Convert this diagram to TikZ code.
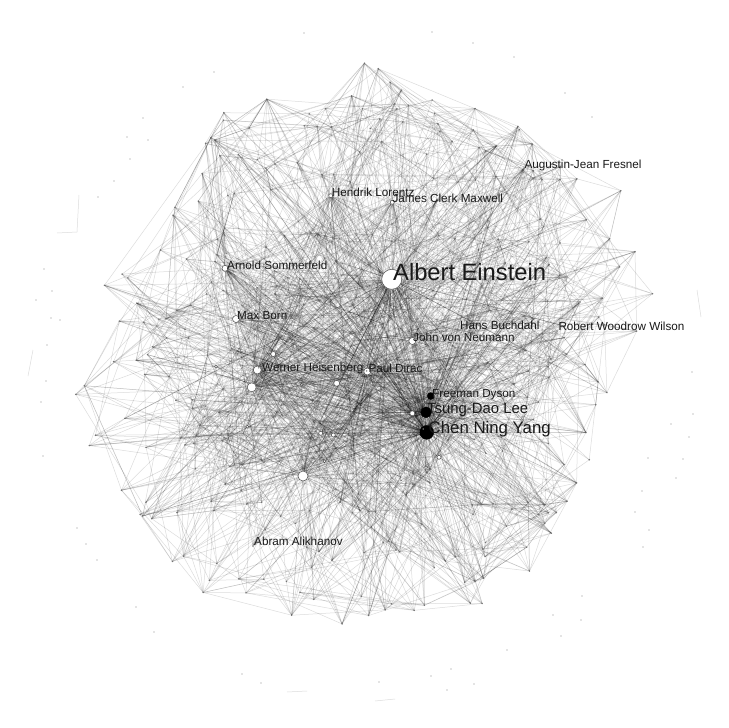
\documentclass[tikz,border=0pt]{standalone}
\usepackage{fontspec}
\setmainfont{Liberation Sans}
\pgfdeclarelayer{edges}
\pgfsetlayers{edges,main}
\begin{document}
\begin{tikzpicture}[x=1pt,y=-1pt,
  edge/.style={draw=black,draw opacity=0.14,line width=0.5pt},
  wnode/.style={circle,draw=black!70,fill=white,line width=0.5pt,inner sep=0pt},
  bnode/.style={circle,draw=black,fill=black,inner sep=0pt},
  dnode/.style={circle,fill=black!60,inner sep=0pt,minimum size=1.8pt},
  lbl/.style={anchor=base west,inner sep=0pt,text=black!90},
  sml/.style={lbl,font=\fontsize{11.7}{14}\selectfont},
  isodot/.style={fill=black!45}
]
\useasboundingbox (0,0) rectangle (728,728);
% ---- hub nodes
\node[wnode,minimum size=20pt] (ein) at (391.7,279.3) {};
\node[bnode,minimum size=14pt] (yang) at (426.7,432.3) {};
\node[bnode,minimum size=11pt] (lee) at (426,412.3) {};
\node[bnode,minimum size=7pt] (dyson) at (430.7,396) {};
\node[wnode,minimum size=8pt] (heis) at (257.3,370) {};
\node[wnode,minimum size=9pt] (w1) at (251.7,387.3) {};
\node[wnode,minimum size=10pt] (w2) at (303,476) {};
\node[wnode,minimum size=7pt] (born) at (236,319) {};
\node[wnode,minimum size=6pt] (somm) at (225,268.3) {};
\node[wnode,minimum size=7pt] (dirac) at (367.3,371.5) {};
\node[wnode,minimum size=7pt] (neum) at (412.3,341) {};
\node[wnode,minimum size=6pt] (w3) at (336.7,383.3) {};
\node[wnode,minimum size=5pt] (w4) at (273.3,354) {};
\node[wnode,minimum size=5pt] (w5) at (412.3,413.3) {};
\node[wnode,minimum size=4pt] (w6) at (439,457.3) {};
\node[wnode,minimum size=4pt] (w7) at (320.7,433.3) {};
\node[wnode,minimum size=4pt] (w8) at (333.3,435) {};
\node[wnode,minimum size=3pt] (w9) at (324.5,461.3) {};
\node[wnode,minimum size=3pt] (w10) at (216,366.7) {};
\node[wnode,minimum size=3pt] (w11) at (247.3,426.7) {};
\node[wnode,minimum size=3pt,fill=black!20] (w12) at (301.7,384.7) {};
\node[wnode,minimum size=4pt] (lor) at (330.7,195.7) {};
\node[wnode,minimum size=4pt] (maxw) at (392.3,202.3) {};
\node[dnode] (fres) at (524,168.3) {};
\node[dnode] (buch) at (458,330) {};
\node[dnode] (wils) at (557,331) {};
\node[dnode] (alik) at (253,546) {};
\node[dnode] (g1) at (567,277) {};
\node[dnode] (g2) at (580,302) {};
% ---- random network nodes
\def\NN{430}
\def\Rtab{{250,235,250,260,265,270,270,270,285,290,285,300,295,290,280,270,295,305,303,295,300,300,308,310,250,235}}
\pgfmathsetseed{2718}
\foreach \i in {1,...,\NN}{
  \pgfmathsetmacro\th{(\i+rnd)/\NN*360}
  \pgfmathtruncatemacro\kk{floor(\th/15)}
  \pgfmathsetmacro\fr{\th/15-\kk}
  \pgfmathsetmacro\RR{\Rtab[\kk]*(1-\fr)+\Rtab[\kk+1]*\fr}
  \pgfmathsetmacro\rr{\RR*pow(rnd,0.66)}
  \pgfmathsetmacro\px{370+\rr*cos(\th)}
  \pgfmathsetmacro\py{365+\rr*sin(\th)}
  \coordinate (n\i) at (\px,\py);
  \expandafter\xdef\csname nx\i\endcsname{\px}
  \expandafter\xdef\csname ny\i\endcsname{\py}
}
\foreach \i in {1,...,\NN}{\fill[black!55] (n\i) circle (0.8);}
% ---- isolated dots
\foreach \p in {(304,33),(214,72),(183,87),(143,118),(127,137),(148,140),(130,159),(114,181),(98,197),(44,269),(52,291),(36,300),(60,320),(51,318),(47,345),(432,32),(473,43),(514,57),(565,93),(592,117),(46,381),(41,402),(43,456),(77,528),(86,544),(97,560),(136,607),(154,632),(242,674),(261,683),(692,372),(693,414),(671,424),(689,437),(648,458),(683,459),(676,478),(642,491),(635,512),(649,530),(643,547),(582,596),(581,620),(553,615),(561,636),(507,650),(451,669),(431,676),(474,684),(447,690),(379,682)}{\fill[isodot] \p circle (0.6);}
% ---- edges
\begin{pgfonlayer}{edges}
\fill[white] (0,0) rectangle (728,728);
% local edges
\foreach \e in {1,...,1750}{
  \pgfmathtruncatemacro\ea{random(1,\NN)}
  \pgfmathtruncatemacro\eb{mod(\ea+random(0,80)-40+\NN-1,\NN)+1}
  \pgfmathtruncatemacro\ec{mod(\ea+random(0,80)-40+\NN-1,\NN)+1}
  \pgfmathtruncatemacro\ed{mod(\ea+random(0,80)-40+\NN-1,\NN)+1}
  \edef\xa{\csname nx\ea\endcsname}\edef\ya{\csname ny\ea\endcsname}
  \edef\xb{\csname nx\eb\endcsname}\edef\yb{\csname ny\eb\endcsname}
  \edef\xc{\csname nx\ec\endcsname}\edef\yc{\csname ny\ec\endcsname}
  \edef\xd{\csname nx\ed\endcsname}\edef\yd{\csname ny\ed\endcsname}
  \pgfmathsetmacro\db{((\xa-\xb)/100)^2+((\ya-\yb)/100)^2}
  \pgfmathsetmacro\dc{((\xa-\xc)/100)^2+((\ya-\yc)/100)^2}
  \pgfmathsetmacro\dd{((\xa-\xd)/100)^2+((\ya-\yd)/100)^2}
  \let\best\eb \let\dbest\db
  \ifdim\dc pt<\dbest pt \let\best\ec \let\dbest\dc \fi
  \ifdim\dd pt<\dbest pt \let\best\ed \let\dbest\dd \fi
  \ifnum\best=\ea\else \draw[edge] (n\ea) -- (n\best);\fi
}
% global edges
\foreach \e in {1,...,350}{
  \pgfmathtruncatemacro\ea{random(1,\NN)}
  \pgfmathtruncatemacro\eb{random(1,\NN)}
  \pgfmathtruncatemacro\ec{random(1,\NN)}
  \edef\xa{\csname nx\ea\endcsname}\edef\ya{\csname ny\ea\endcsname}
  \edef\xb{\csname nx\eb\endcsname}\edef\yb{\csname ny\eb\endcsname}
  \edef\xc{\csname nx\ec\endcsname}\edef\yc{\csname ny\ec\endcsname}
  \pgfmathsetmacro\db{((\xa-\xb)/100)^2+((\ya-\yb)/100)^2}
  \pgfmathsetmacro\dc{((\xa-\xc)/100)^2+((\ya-\yc)/100)^2}
  \let\best\eb
  \ifdim\dc pt<\db pt \let\best\ec \fi
  \ifnum\best=\ea\else \draw[edge] (n\ea) -- (n\best);\fi
}
% hub edges
\foreach \h/\m in {ein/180,yang/200,lee/150,dyson/60,heis/90,w1/70,w2/65,born/55,somm/55,dirac/55,neum/45,w3/35,w4/25,w5/25,w6/20,w7/20,w8/20,w9/15,w10/15,w11/15,w12/15,lor/40,maxw/40,fres/20,buch/8,wils/12,alik/14,g1/20,g2/20}{
  \foreach \j in {1,...,\m}{
    \pgfmathtruncatemacro\ea{random(1,\NN)}
    \draw[edge] (\h) -- (n\ea);
  }
}
% isolated segments
\coordinate (s1) at (79,195); \coordinate (s2) at (77,232); \coordinate (s3) at (57,233);
\coordinate (s4) at (28,376); \coordinate (s5) at (33,350);
\coordinate (s6) at (287,692); \coordinate (s7) at (307,691);
\coordinate (s8) at (375,701); \coordinate (s9) at (395,699);
\coordinate (s10) at (697,290); \coordinate (s11) at (701,317);
\draw[edge] (s1) -- (s2) -- (s3);
\draw[edge] (s4) -- (s5);
\draw[edge] (s6) -- (s7);
\draw[edge] (s8) -- (s9);
\draw[edge] (s10) -- (s11);
\end{pgfonlayer}
% ---- labels
\node[lbl,font=\fontsize{23.7}{28}\selectfont] (einL) at (393,280.5) {Albert Einstein};
\node[lbl,font=\fontsize{16.8}{20}\selectfont] (yangL) at (428.5,433) {Chen Ning Yang};
\node[lbl,font=\fontsize{14.9}{18}\selectfont] (leeL) at (427,413) {Tsung-Dao Lee};
\node[sml] (dysonL) at (432,397.3) {Freeman Dyson};
\node[sml] (sommL) at (227,269.3) {Arnold Sommerfeld};
\node[sml] (bornL) at (237,319.3) {Max Born};
\node[sml] (lorL) at (331.7,196.7) {Hendrik Lorentz};
\node[sml] (maxwL) at (392.3,202.7) {James Clerk Maxwell};
\node[sml] (fresL) at (524.3,168.3) {Augustin-Jean Fresnel};
\node[sml] (buchL) at (460,329.3) {Hans Buchdahl};
\node[sml] (wilsL) at (558.3,330) {Robert Woodrow Wilson};
\node[sml] (neumL) at (413,341.3) {John von Neumann};
\node[sml] (heisL) at (262,371.7) {Werner Heisenberg};
\node[sml] (diracL) at (368.3,372.3) {Paul Dirac};
\node[sml] (alikL) at (254,545.3) {Abram Alikhanov};
\end{tikzpicture}
\end{document}
